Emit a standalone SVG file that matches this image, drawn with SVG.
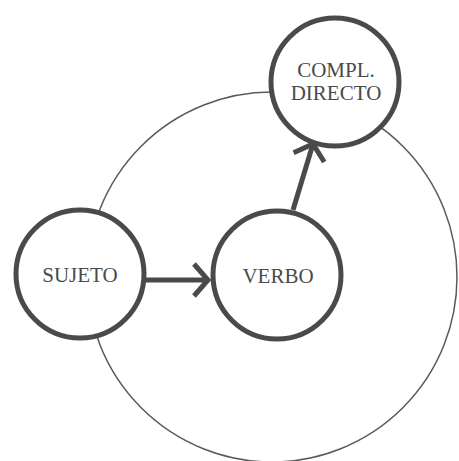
<svg xmlns="http://www.w3.org/2000/svg" width="459" height="461" viewBox="0 0 459 461">
  <style>
    .node { fill: #ffffff; stroke: #4a4a4a; stroke-width: 5; }
    .label { font-family: "Liberation Serif", "Times New Roman", serif; font-size: 21px; fill: #4a4a4a; text-anchor: middle; }
    .edge { stroke: #4a4a4a; stroke-width: 5; fill: none; }
    .ring { fill: none; stroke: #5a5a5a; stroke-width: 1.5; }
  </style>
  <defs>
    <marker id="chev" markerUnits="userSpaceOnUse" markerWidth="40" markerHeight="40" refX="0" refY="0" viewBox="-20 -20 40 40" orient="auto" overflow="visible">
      <path d="M-14,-16 L0,0 L-14,16" fill="none" stroke="#4a4a4a" stroke-width="5" stroke-linejoin="miter"/>
    </marker>
  </defs>
  <rect width="459" height="461" fill="#ffffff"/>
  <circle class="ring" cx="272" cy="277" r="185"/>
  <g id="connectors">
    <line class="edge" x1="146" y1="280" x2="208" y2="280" marker-end="url(#chev)"/>
    <line class="edge" x1="293" y1="210" x2="313" y2="144" marker-end="url(#chev)"/>
  </g>
  <g id="sujeto">
    <circle class="node" cx="80" cy="274" r="64"/>
    <text class="label" x="80" y="282">SUJETO</text>
  </g>
  <g id="verbo">
    <circle class="node" cx="277" cy="275" r="64"/>
    <text class="label" x="278" y="283">VERBO</text>
  </g>
  <g id="compl-directo">
    <circle class="node" cx="335" cy="82" r="64"/>
    <text class="label" x="336" y="77">COMPL.</text>
    <text class="label" x="336" y="100">DIRECTO</text>
  </g>
</svg>
